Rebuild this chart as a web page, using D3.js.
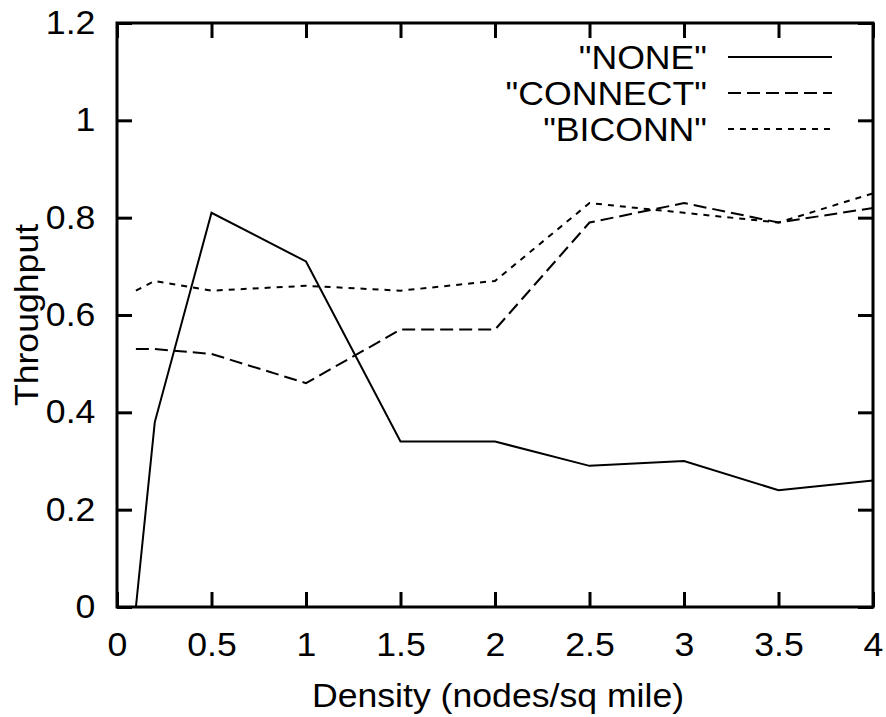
<!DOCTYPE html>
<html>
<head>
<meta charset="utf-8">
<script src="https://cdn.jsdelivr.net/npm/d3@7"></script>
<style>
  body { margin: 0; background: #fff; }
  svg text { font-family: "Liberation Sans", Arial, sans-serif; fill: #000; }
</style>
</head>
<body>
<div id="chart"></div>
<script>
// values
var density = [0.1, 0.2, 0.5, 1, 1.5, 2, 2.5, 3, 3.5, 4];
var noneVals = [0, 0.38, 0.81, 0.71, 0.34, 0.34, 0.29, 0.30, 0.24, 0.26];
var connectVals = [0.53, 0.53, 0.52, 0.46, 0.57, 0.57, 0.79, 0.83, 0.79, 0.82];
var biconnVals = [0.65, 0.67, 0.65, 0.66, 0.65, 0.67, 0.83, 0.81, 0.79, 0.85];
var seriesNames = ['"NONE"', '"CONNECT"', '"BICONN"'];
var xTicks = [0, 0.5, 1, 1.5, 2, 2.5, 3, 3.5, 4];
var yTicks = [0, 0.2, 0.4, 0.6, 0.8, 1, 1.2];

var margin = {top: 23, right: 13, bottom: 110, left: 117},
    width = 886 - margin.left - margin.right,
    height = 717 - margin.top - margin.bottom;

var fontSize = 33;
var stretch = 1.08; // the original lettering is a touch wider than Arial

var x = d3.scaleLinear().domain([0, 4]).range([0, width]);
var y = d3.scaleLinear().domain([0, 1.2]).range([height, 0]);

var svg = d3.select("#chart").append("svg")
    .attr("width", width + margin.left + margin.right)
    .attr("height", height + margin.top + margin.bottom)
  .append("g")
    .attr("transform", "translate(" + margin.left + "," + margin.top + ")");

// ticks point inward, mirrored on all four sides like gnuplot
var tick = 15;
function styleAxis(g) {
  g.select(".domain").remove();
  g.selectAll(".tick line").attr("stroke", "#000").attr("stroke-width", 3);
  g.selectAll(".tick text")
      .style("font-size", fontSize + "px")
      .attr("transform", "scale(" + stretch + ",1)");
}

svg.append("g")
    .attr("transform", "translate(0," + height + ")")
    .call(d3.axisBottom(x).tickValues(xTicks).tickFormat(d3.format("")).tickSizeInner(-tick).tickSizeOuter(0).tickPadding(26))
    .call(styleAxis);

svg.append("g")
    .call(d3.axisTop(x).tickValues(xTicks).tickFormat("").tickSizeInner(-tick).tickSizeOuter(0))
    .call(styleAxis);

svg.append("g")
    .call(d3.axisLeft(y).tickValues(yTicks).tickFormat(d3.format("")).tickSizeInner(-tick).tickSizeOuter(0).tickPadding(20))
    .call(styleAxis);

svg.append("g")
    .attr("transform", "translate(" + width + ",0)")
    .call(d3.axisRight(y).tickValues(yTicks).tickFormat("").tickSizeInner(-tick).tickSizeOuter(0))
    .call(styleAxis);

// border
svg.append("rect")
    .attr("width", width)
    .attr("height", height)
    .attr("fill", "none")
    .attr("stroke", "#000")
    .attr("stroke-width", 3);

var line = d3.line()
    .x(function(d) { return x(d[0]); })
    .y(function(d) { return y(d[1]); });

var series = [
  {name: seriesNames[0], values: noneVals, dash: null},
  {name: seriesNames[1], values: connectVals, dash: "13,6"},
  {name: seriesNames[2], values: biconnVals, dash: "6,6"}
];

series.forEach(function(s) {
  svg.append("path")
      .datum(d3.zip(density, s.values))
      .attr("fill", "none")
      .attr("stroke", "#000")
      .attr("stroke-width", 2)
      .attr("stroke-dasharray", s.dash)
      .attr("d", line);
});

// legend, top right
var legend = svg.selectAll(".legend")
    .data(series)
  .enter().append("g")
    .attr("class", "legend")
    .attr("transform", function(d, i) { return "translate(0," + (34 + i * 36) + ")"; });

legend.append("text")
    .attr("transform", "translate(590,0) scale(" + stretch + ",1)")
    .attr("dy", "0.35em")
    .style("text-anchor", "end")
    .style("font-size", fontSize + "px")
    .text(function(d) { return d.name; });

legend.append("line")
    .attr("x1", 611)
    .attr("x2", 715)
    .attr("stroke", "#000")
    .attr("stroke-width", 2)
    .attr("stroke-dasharray", function(d) { return d.dash; });

// text label for the x axis
svg.append("text")
    .attr("transform", "translate(" + (width / 2 + 3) + "," + (height + 100) + ") scale(" + stretch + ",1)")
    .style("text-anchor", "middle")
    .style("font-size", fontSize + "px")
    .text("Density (nodes/sq mile)");

// text label for the y axis
svg.append("text")
    .attr("transform", "translate(" + (38 - margin.left) + "," + (height / 2) + ") rotate(-90) scale(" + stretch + ",1)")
    .style("text-anchor", "middle")
    .style("font-size", fontSize + "px")
    .text("Throughput");
</script>
</body>
</html>
